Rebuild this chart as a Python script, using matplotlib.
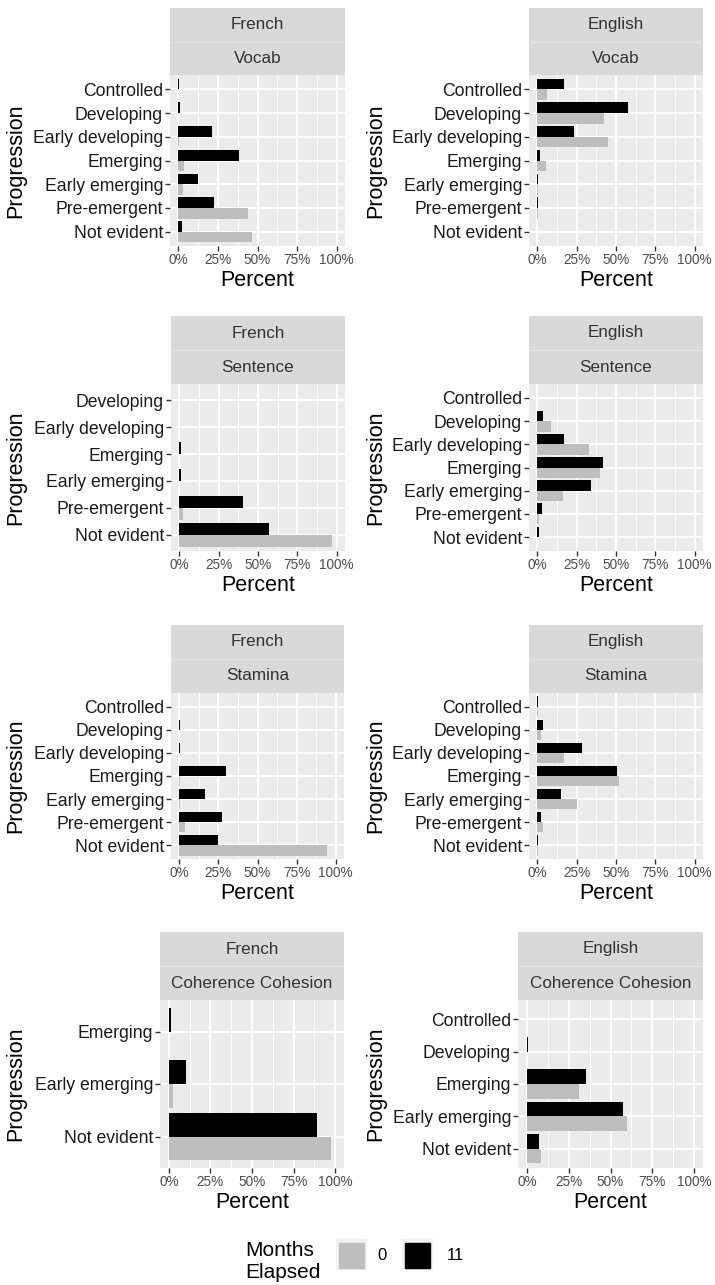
import numpy as np
import matplotlib
matplotlib.use('Agg')
import matplotlib.pyplot as plt
from matplotlib.patches import Rectangle

plt.rcParams['font.family'] = ['Liberation Sans', 'DejaVu Sans']

# category sets (bottom -> top)
cats_full = ["Not evident", "Pre-emergent", "Early emerging", "Emerging",
             "Early developing", "Developing", "Controlled"]
cats_fr_sentence = ["Not evident", "Pre-emergent", "Early emerging", "Emerging",
                    "Early developing", "Developing"]
cats_fr_coh = ["Not evident", "Early emerging", "Emerging"]
cats_en_coh = ["Not evident", "Early emerging", "Emerging", "Developing", "Controlled"]

# percent of students, 0 months / 11 months elapsed
fr_vocab_0 = [46.7, 44.0, 3.0, 3.4, 0.3, 0, 0]
fr_vocab_11 = [2.3, 22.3, 12.3, 38.0, 21.4, 1.3, 0.3]
en_vocab_0 = [0, 0.3, 0.3, 5.5, 44.7, 42.4, 5.9]
en_vocab_11 = [0, 0.3, 0.3, 1.9, 23.1, 57.6, 17.2]
fr_sentence_0 = [96.8, 2.5, 0, 0, 0, 0]
fr_sentence_11 = [57.3, 40.3, 0.8, 0.8, 0, 0]
en_sentence_0 = [0, 0.8, 16.3, 39.8, 32.8, 8.9, 0]
en_sentence_11 = [0.8, 2.8, 34.3, 41.5, 17.2, 3.6, 0]
fr_stamina_0 = [94.3, 3.8, 0.6, 0.6, 0, 0, 0]
fr_stamina_11 = [24.6, 27.2, 16.6, 30.1, 0.2, 0.2, 0]
en_stamina_0 = [0.3, 3.6, 25.0, 51.7, 17.2, 2.1, 0.3]
en_stamina_11 = [0.3, 2.1, 15.0, 50.6, 28.2, 3.8, 0.3]
fr_coh_0 = [97.2, 2.6, 0]
fr_coh_11 = [88.8, 10.2, 1.2]
en_coh_0 = [8.3, 59.6, 31.4, 0.3, 0]
en_coh_11 = [7.4, 57.3, 35.2, 0.8, 0]

months = ["0", "11"]
month_colors = ["#BEBEBE", "#000000"]
x_ticks = [0, 25, 50, 75, 100]
x_ticklabels = ["0%", "25%", "50%", "75%", "100%"]

panels = [
    ("French", "Vocab", cats_full, fr_vocab_0, fr_vocab_11),
    ("English", "Vocab", cats_full, en_vocab_0, en_vocab_11),
    ("French", "Sentence", cats_fr_sentence, fr_sentence_0, fr_sentence_11),
    ("English", "Sentence", cats_full, en_sentence_0, en_sentence_11),
    ("French", "Stamina", cats_full, fr_stamina_0, fr_stamina_11),
    ("English", "Stamina", cats_full, en_stamina_0, en_stamina_11),
    ("French", "Coherence Cohesion", cats_fr_coh, fr_coh_0, fr_coh_11),
    ("English", "Coherence Cohesion", cats_en_coh, en_coh_0, en_coh_11),
]

W, H = 715, 1285
fig = plt.figure(figsize=(W / 100, H / 100), dpi=100)

# pixel layout: (left, right, strip top, panel top, panel bottom)
boxes = [
    (170, 345, 8, 75, 246), (529, 703, 8, 75, 246),
    (171, 345, 316, 384, 551), (529, 703, 316, 384, 551),
    (171, 344, 625, 693, 859), (529, 703, 625, 693, 859),
    (160, 344, 932, 1000, 1168), (518, 703, 932, 1000, 1168),
]


def px_axes(l, r, t, b):
    return fig.add_axes([l / W, 1 - b / H, (r - l) / W, (b - t) / H])


for (lang, skill, cats, v0, v11), (l, r, st, pt, pb) in zip(panels, boxes):
    ax = px_axes(l, r, pt, pb)
    ax.set_facecolor("#EBEBEB")
    y = np.arange(len(cats))
    ax.barh(y - 0.225, v0, height=0.45, color=month_colors[0], zorder=3)
    ax.barh(y + 0.225, v11, height=0.45, color=month_colors[1], zorder=3)
    ax.set_xlim(-5.3, 105.3)
    ax.set_ylim(-0.6, len(cats) - 0.4)
    ax.set_xticks(x_ticks)
    ax.set_xticklabels(x_ticklabels, fontsize=9.8, color="#4D4D4D")
    ax.set_xticks([12.5, 37.5, 62.5, 87.5], minor=True)
    ax.set_yticks(y)
    ax.set_yticklabels(cats, fontsize=12.7, color="#1A1A1A")
    ax.tick_params(axis="both", which="major", length=3.5, width=1.0,
                   color="#333333", pad=1.5)
    ax.tick_params(axis="both", which="minor", length=0)
    ax.grid(True, which="major", color="white", lw=1.4, zorder=0)
    ax.grid(True, which="minor", axis="x", color="white", lw=0.7, zorder=0)
    ax.set_axisbelow(True)
    for s in ax.spines.values():
        s.set_visible(False)
    ax.set_xlabel("Percent", fontsize=15.5, labelpad=2)
    ax.set_ylabel("Progression", fontsize=15.5)
    col0 = 0 if l < 360 else 360
    ax.yaxis.set_label_coords((col0 + 26 - l) / (r - l), 0.5)

    # two-level facet strip
    sax = px_axes(l, r, st, pt)
    sax.set_xlim(0, 1)
    sax.set_ylim(0, 2)
    sax.axis("off")
    sax.add_patch(Rectangle((0, 0), 1, 2, color="#D9D9D9"))
    sax.axhline(1, color="#E3E3E3", lw=0.8)
    sax.text(0.5, 1.5, lang, ha="center", va="center", fontsize=12.3, color="#333333")
    sax.text(0.5, 0.5, skill, ha="center", va="center", fontsize=12.3, color="#333333")

# legend
fig.text(245 / W, 1 - 1261 / H, "Months\nElapsed", ha="left", va="center",
         fontsize=15, linespacing=1.2)
key_x = [336, 402]
label_x = [377, 447]
for kx, lx, lab, col in zip(key_x, label_x, months, month_colors):
    kax = px_axes(kx, kx + 31, 1239, 1270)
    kax.set_xlim(0, 1)
    kax.set_ylim(0, 1)
    kax.axis("off")
    kax.add_patch(Rectangle((0, 0), 1, 1, color="#F2F2F2"))
    kax.add_patch(Rectangle((0.1, 0.08), 0.8, 0.8, color=col))
    fig.text(lx / W, 1 - 1256 / H, lab, ha="left", va="center", fontsize=12)

fig.savefig("out.png", dpi=100)
